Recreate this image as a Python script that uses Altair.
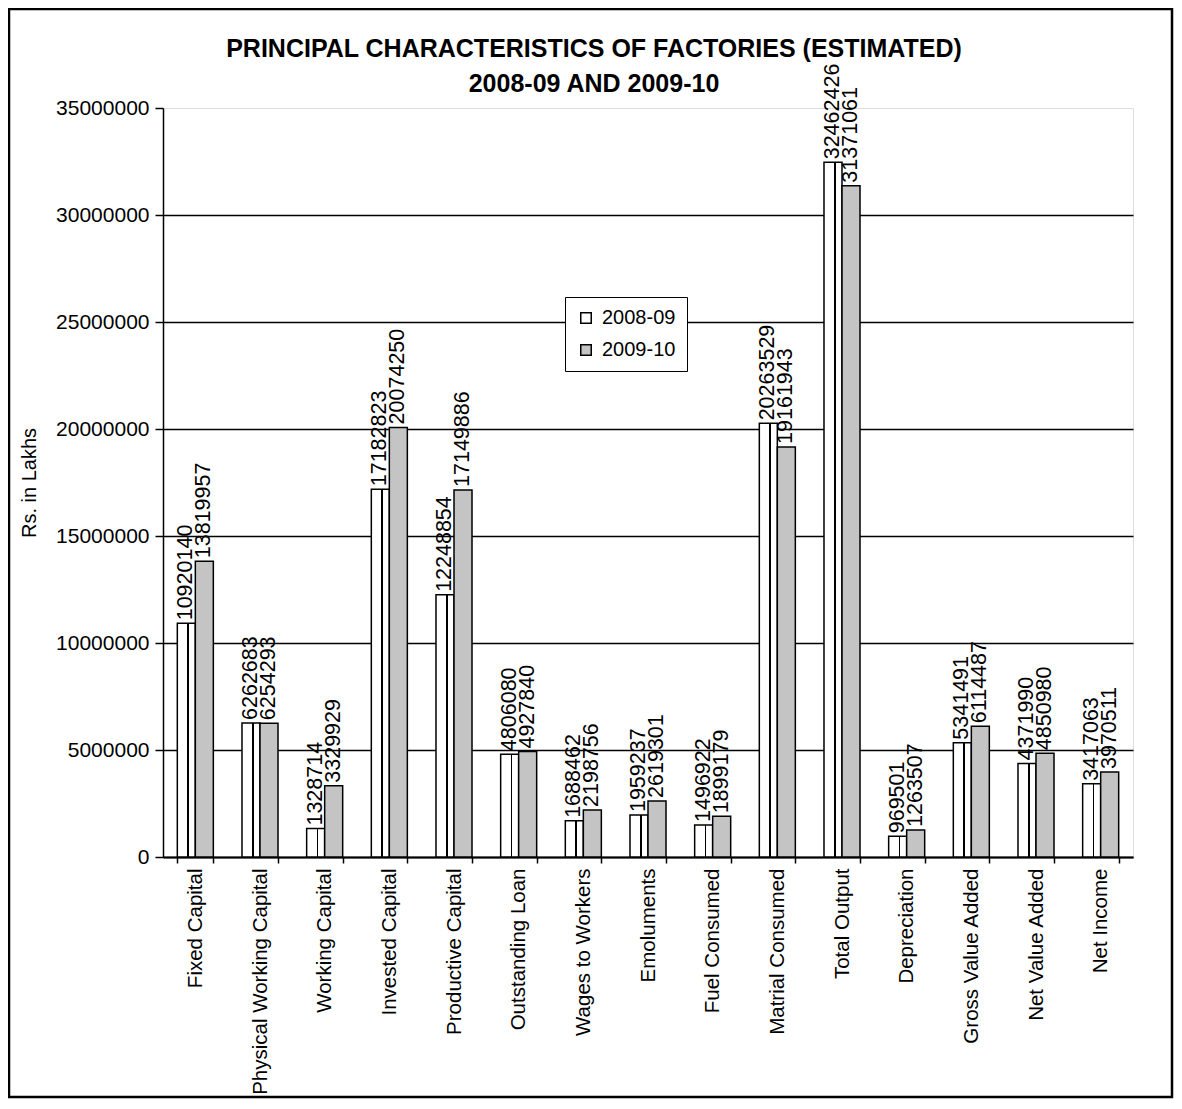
import altair as alt
import pandas as pd

categories = ["Fixed Capital", "Physical Working Capital", "Working Capital", "Invested Capital",
              "Productive Capital", "Outstanding Loan", "Wages to Workers", "Emoluments",
              "Fuel Consumed", "Matrial Consumed", "Total Output", "Depreciation",
              "Gross Value Added", "Net Value Added", "Net Income"]
v2008 = [10920140, 6262683, 1328714, 17182823, 12248854, 4806080, 1688462, 1959237,
         1496922, 20263529, 32462426, 969501, 5341491, 4371990, 3417063]
v2009 = [13819957, 6254293, 3329929, 20074250, 17149886, 4927840, 2198756, 2619301,
         1899179, 19161943, 31371061, 1263507, 6114487, 4850980, 3970511]
years = ["2008-09", "2009-10"]
y_ticks = [0, 5000000, 10000000, 15000000, 20000000, 25000000, 30000000, 35000000]
title_lines = ["PRINCIPAL CHARACTERISTICS OF FACTORIES (ESTIMATED)", "2008-09 AND 2009-10"]

rows = []
for c, a, b in zip(categories, v2008, v2009):
    rows.append({"Category": c, "Year": years[0], "Value": a})
    rows.append({"Category": c, "Year": years[1], "Value": b})
df = pd.DataFrame(rows)

FONT = "Liberation Sans"

stripe = {
    "gradient": "linear", "x1": 0, "x2": 1, "y1": 0, "y2": 0,
    "stops": [
        {"offset": 0, "color": "white"},
        {"offset": 0.55, "color": "white"},
        {"offset": 0.55, "color": "black"},
        {"offset": 0.64, "color": "black"},
        {"offset": 0.64, "color": "white"},
        {"offset": 1, "color": "white"},
    ],
}

x_enc = alt.X("Category:N", sort=categories, title=None,
              scale=alt.Scale(paddingInner=0.443, paddingOuter=0.2215),
              axis=alt.Axis(labelAngle=270, labelFontSize=20.5, labelFont=FONT, labelColor="black",
                            labelPadding=5, tickColor="black", tickSize=6, tickWidth=1.5,
                            tickBand="extent", domainColor="black", domainWidth=2,
                            labelLimit=400, grid=False))
y_enc = alt.Y("Value:Q", title="Rs. in Lakhs",
              scale=alt.Scale(domain=[0, 35000000], nice=False),
              axis=alt.Axis(values=y_ticks, format="d", labelFontSize=21, labelFont=FONT,
                            labelColor="black", titleFontSize=20, titleFont=FONT,
                            titleFontWeight="normal", titleColor="black", titlePadding=16,
                            tickColor="black", tickSize=8, tickWidth=1.5, domainColor="black",
                            domainWidth=1.5, labelPadding=6,
                            gridColor="black", gridWidth=1.3,
                            gridOpacity=alt.condition("datum.value >= 35000000", alt.value(0), alt.value(1))))
xoff = alt.XOffset("Year:N", sort=years, scale=alt.Scale(paddingInner=0, paddingOuter=0))

bars = alt.Chart(df).mark_bar(stroke="black", strokeWidth=1.5).encode(
    x=x_enc, y=y_enc, xOffset=xoff,
    fill=alt.condition(
        "datum.Year == '2008-09'",
        alt.value(stripe),
        alt.Fill("Year:N", sort=years,
                 scale=alt.Scale(domain=years, range=["white", "#c4c4c4"]),
                 legend=alt.Legend(title=None, orient="none", legendX=402, legendY=189,
                                   labelFontSize=20, labelFont=FONT, labelColor="black",
                                   symbolType="square", symbolSize=110, symbolStrokeColor="black",
                                   symbolStrokeWidth=1.5, strokeColor="black", fillColor="white",
                                   padding=11, rowPadding=12, labelOffset=6)),
    ),
)

labels = alt.Chart(df).mark_text(angle=270, align="left", baseline="middle", dx=3,
                                 fontSize=21.5, font=FONT, color="black").encode(
    x=alt.X("Category:N", sort=categories),
    xOffset=alt.XOffset("Year:N", sort=years),
    y="Value:Q",
    text=alt.Text("Value:Q", format="d"),
)

title = alt.Chart(alt.Data(values=[{"a": 1}])).mark_text(
    fontSize=25, font=FONT, fontWeight="bold", color="black", align="center",
    baseline="top", lineHeight=35).encode(
    x=alt.value(431), y=alt.value(-71), text=alt.value(title_lines))

frame = alt.Chart(alt.Data(values=[{"a": 1}])).mark_rect(
    fill=None, stroke="black", strokeWidth=2.5).encode(
    x=alt.value(-154), x2=alt.value(1009), y=alt.value(-99), y2=alt.value(989))

chart = alt.layer(bars, labels, title, frame).properties(
    width=970, height=749,
    autosize=alt.AutoSizeParams(type="none"),
    padding={"left": 155, "top": 100, "right": 41, "bottom": 244},
).configure_view(stroke="#888888", strokeDash=[2, 3], strokeWidth=1).configure(background="white")

chart.save("out.html", embed_options={"renderer": "svg", "actions": False})
